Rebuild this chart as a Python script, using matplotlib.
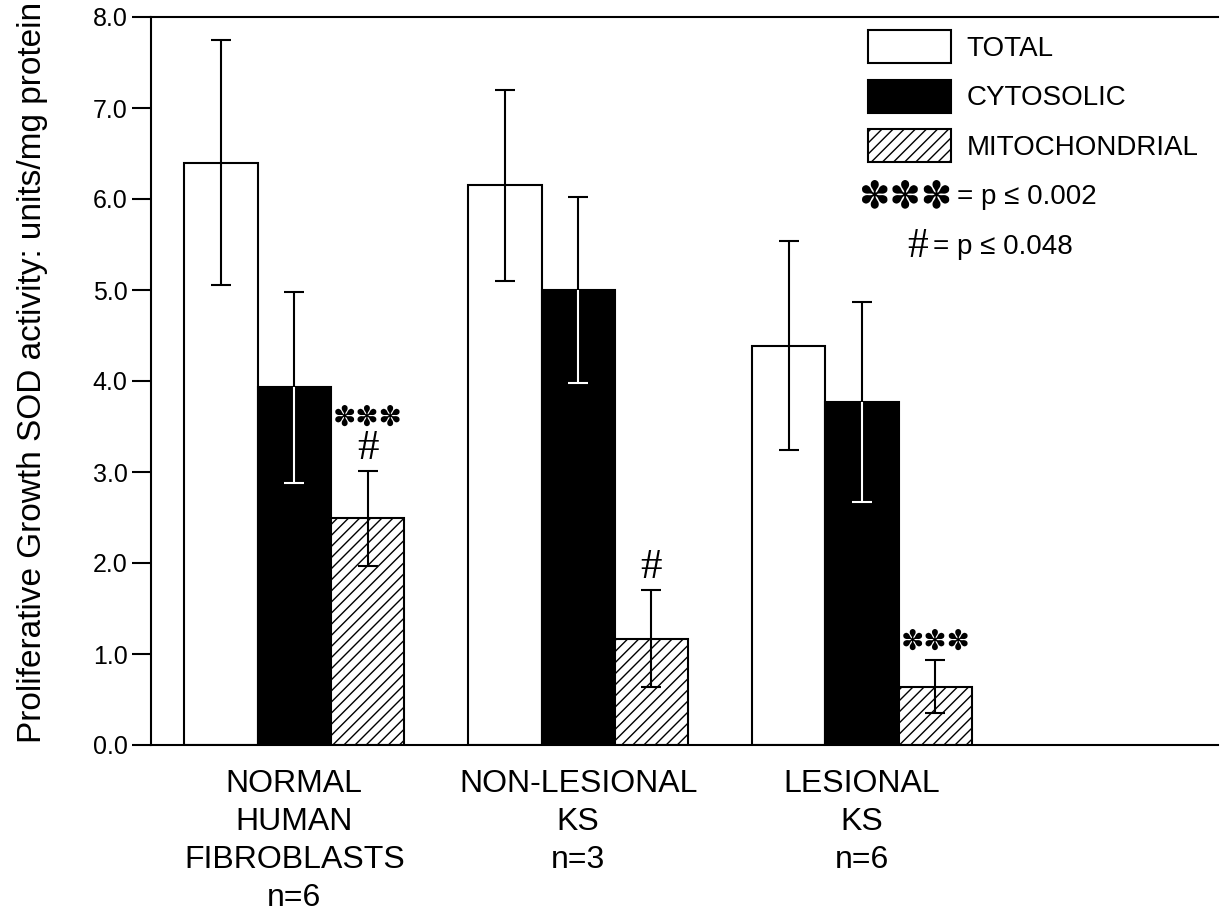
import numpy as np
import matplotlib
matplotlib.use("Agg")
import matplotlib.pyplot as plt

# valores
grupos = ["NORMAL\nHUMAN\nFIBROBLASTS\nn=6", "NON-LESIONAL\nKS\nn=3", "LESIONAL\nKS\nn=6"]
total = [6.40, 6.15, 4.39]
total_err = [1.35, 1.05, 1.15]
cyto = [3.93, 5.00, 3.77]
cyto_err = [1.05, 1.02, 1.10]
mito = [2.49, 1.17, 0.64]
mito_err = [0.52, 0.53, 0.29]
marcas = ["***\n#", "#", "***"]

plt.rcParams['font.family'] = ['Liberation Sans', 'DejaVu Sans']
plt.rcParams['hatch.linewidth'] = 1.0

fig = plt.figure(figsize=(12.2, 9.11), dpi=100)
ax = fig.add_axes([151 / 1220, 1 - 745 / 911, (1218 - 151) / 1220, (745 - 17) / 911])

x = np.arange(len(grupos))
w = 0.258

b1 = ax.bar(x - w, total, w, color='white', edgecolor='black', linewidth=1.5, label='TOTAL', zorder=2)
b2 = ax.bar(x, cyto, w, color='black', edgecolor='black', linewidth=1.5, label='CYTOSOLIC', zorder=2)
b3 = ax.bar(x + w, mito, w, color='white', edgecolor='black', linewidth=1.5, hatch='///',
            label='MITOCHONDRIAL', zorder=2)

# barras de error (negras), la parte dentro de la barra negra va en blanco
for xs, v, e in [(x - w, total, total_err), (x, cyto, cyto_err), (x + w, mito, mito_err)]:
    ax.errorbar(xs, v, yerr=e, fmt='none', ecolor='black', elinewidth=1.5,
                capsize=7, capthick=1.5, zorder=3)
low = np.array(cyto) - np.array(cyto_err)
ax.vlines(x, low, cyto, color='white', linewidth=1.5, zorder=4)
ax.plot(x, low, ls='none', marker='_', markersize=14, mew=1.5, color='white', zorder=4)

# marcas de significancia sobre las barras mitocondriales
tops = np.array(mito) + np.array(mito_err)
for xi, t, m in zip(x + w, tops, marcas):
    lineas = m.split("\n")
    if "#" in lineas:
        ax.annotate("#", (xi, t), xytext=(0, 16), textcoords='offset points',
                    ha='center', va='center', fontsize=31, family=['Liberation Serif'])
        dy_ast = 38
    else:
        dy_ast = 13
    if "***" in lineas:
        ax.annotate("✽✽✽", (xi, t), xytext=(0, dy_ast), textcoords='offset points',
                    ha='center', va='center', fontsize=20, family=['DejaVu Sans'])

ax.set_ylim(0, 8)
ax.set_xlim(-0.505, 3.254)
ax.set_yticks(np.arange(0, 9))
ax.set_yticklabels([f"{v:.1f}" for v in np.arange(0, 9)], fontsize=18)
ax.set_xticks(x)
ax.set_xticklabels(grupos, fontsize=23, linespacing=1.35)
ax.tick_params(axis='x', length=0, pad=17)
ax.tick_params(axis='y', length=14, width=1.5, pad=3, direction='out')
ax.spines['right'].set_visible(False)
for s in ['left', 'top', 'bottom']:
    ax.spines[s].set_linewidth(1.5)

ax.set_ylabel("Proliferative Growth SOD activity: units/mg protein", fontsize=24)
ax.yaxis.set_label_coords(-0.097, (745 - 372) / 728)

leg = ax.legend(handles=[b1, b2, b3], loc='upper left', bbox_to_anchor=((868 - 151) / 1067, (745 - 30) / 728),
                frameon=False, fontsize=20, handlelength=3.0, handleheight=1.45,
                labelspacing=0.6, handletextpad=0.55, borderpad=0, borderaxespad=0)

def px(xp, yp):
    return ((xp - 151) / 1067, (745 - yp) / 728)

ax.text(*px(952, 197), "✽✽✽", transform=ax.transAxes, ha='right', va='center',
        fontsize=27, family=['DejaVu Sans'])
ax.text(*px(957, 197), "= p ≤ 0.002", transform=ax.transAxes, ha='left', va='center', fontsize=20)
ax.text(*px(928, 247), "#", transform=ax.transAxes, ha='right', va='center', fontsize=30,
        family=['Liberation Serif'])
ax.text(*px(933, 247), "= p ≤ 0.048", transform=ax.transAxes, ha='left', va='center', fontsize=20)

fig.savefig("out.png", dpi=100)
